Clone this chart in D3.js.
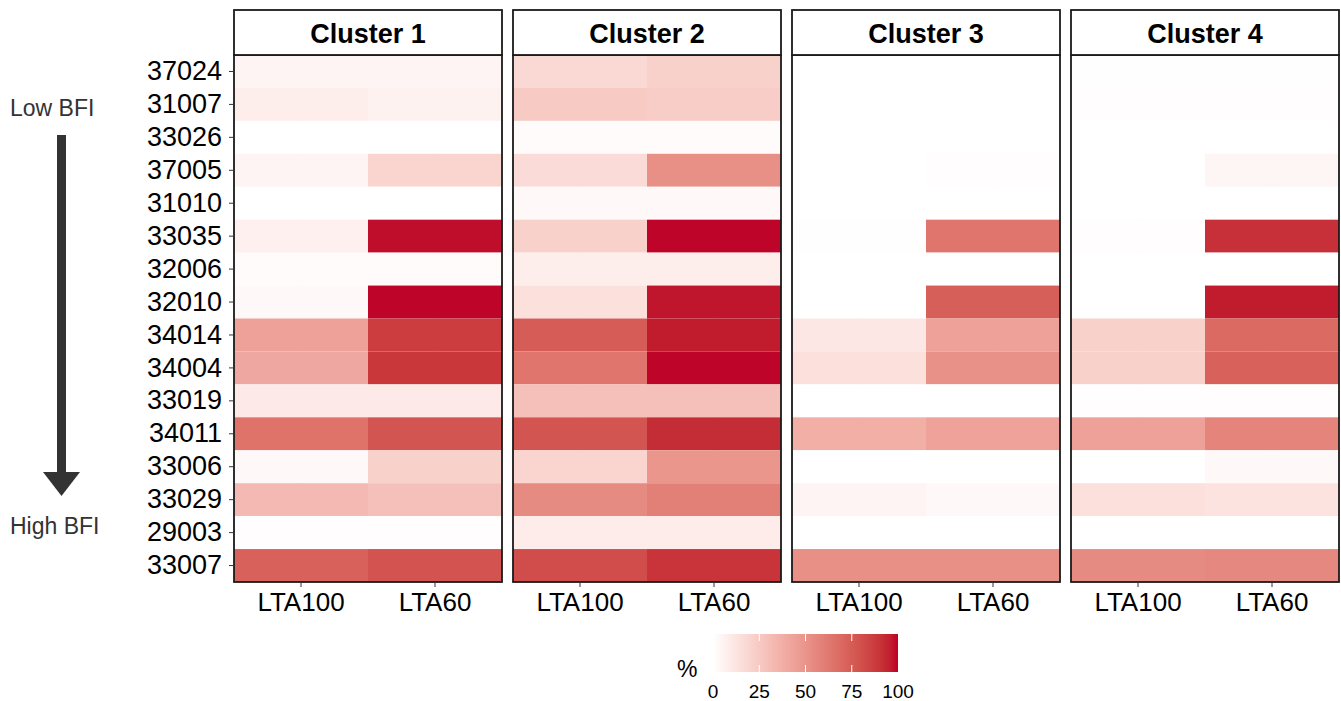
<!DOCTYPE html>
<html>
<head>
<meta charset="utf-8">
<script src="https://cdn.jsdelivr.net/npm/d3@7"></script>
<style>
  body { margin: 0; background: #fff; }
  text { font-family: "Liberation Sans", Arial, sans-serif; }
</style>
</head>
<body>
<div id="chart-area"></div>
<script>

// data (percent)
let stations = ["37024","31007","33026","37005","31010","33035","32006","32010",
                "34014","34004","33019","34011","33006","33029","29003","33007"];
let clusters = ["Cluster 1","Cluster 2","Cluster 3","Cluster 4"];
let periods = ["LTA100","LTA60"];

// one array per cluster+period, same order as stations
let c1_lta100 = [5, 8, 0, 5, 0, 7, 2, 3, 45, 41, 10, 66, 3, 33, 1, 74];
let c1_lta60  = [5, 6, 0, 20, 0, 99, 2, 100, 88, 90, 10, 79, 22, 30, 1, 80];
let c2_lta100 = [18, 25, 2, 17, 3, 22, 8, 15, 76, 65, 30, 79, 20, 55, 9, 82];
let c2_lta60  = [22, 24, 2, 53, 3, 100, 8, 98, 97, 100, 30, 93, 50, 60, 9, 91];
let c3_lta100 = [0, 0, 0, 0, 0, 0.5, 0, 0, 11, 15, 0, 38, 0, 5, 0, 53];
let c3_lta60  = [0, 0, 0, 1, 0, 65, 0, 75, 45, 52, 0, 44, 0, 3, 0, 53];
let c4_lta100 = [0.5, 1, 0, 0, 0, 1, 0, 0, 22, 22, 1, 45, 0, 15, 0, 55];
let c4_lta60  = [0.5, 1, 0, 4, 0, 92, 0, 97, 70, 74, 1, 58, 3, 13, 0, 56];

let legendTicks = [0, 25, 50, 75, 100];

let values = {
  "Cluster 1": {LTA100: c1_lta100, LTA60: c1_lta60},
  "Cluster 2": {LTA100: c2_lta100, LTA60: c2_lta60},
  "Cluster 3": {LTA100: c3_lta100, LTA60: c3_lta60},
  "Cluster 4": {LTA100: c4_lta100, LTA60: c4_lta60}
};

let width = 1341, height = 701;

let svg = d3.select("#chart-area").append("svg")
    .attr("width", width)
    .attr("height", height);

let panelTop = 55, panelBottom = 582, stripTop = 10;
let panelW = 268, panelGap = 11, panelLeft = 234;

let color = d3.scaleLinear()
    .domain([0, 100])
    .range(["#ffffff", "#BD0026"])
    .interpolate(d3.interpolateLab);

let y = d3.scaleBand()
    .domain(stations)
    .range([panelTop, panelBottom]);

// flatten into tiles
let tiles = [];
clusters.forEach(c => {
  periods.forEach(p => {
    stations.forEach((s, i) => {
      tiles.push({cluster: c, period: p, station: s, value: values[c][p][i]});
    });
  });
});

clusters.forEach((c, ci) => {
  let x0 = panelLeft + ci * (panelW + panelGap);
  let x = d3.scaleBand().domain(periods).range([x0, x0 + panelW]);

  let g = svg.append("g").attr("class", "panel");

  // faint grid under the tiles
  g.selectAll(".grid")
    .data(periods)
    .enter().append("line")
      .attr("x1", d => x(d) + x.bandwidth() / 2)
      .attr("x2", d => x(d) + x.bandwidth() / 2)
      .attr("y1", panelTop)
      .attr("y2", panelBottom)
      .attr("stroke", "#ebebeb")
      .attr("stroke-width", 1);

  g.selectAll("rect.tile")
    .data(tiles.filter(d => d.cluster === c))
    .enter().append("rect")
      .attr("class", "tile")
      .attr("x", d => x(d.period))
      .attr("y", d => y(d.station))
      .attr("width", x.bandwidth())
      .attr("height", y.bandwidth())
      .attr("fill", d => color(d.value))
      .attr("fill-opacity", 0.985);

  // panel border
  g.append("rect")
    .attr("x", x0).attr("y", panelTop)
    .attr("width", panelW).attr("height", panelBottom - panelTop)
    .attr("fill", "none").attr("stroke", "#1a1a1a").attr("stroke-width", 1.8);

  // strip
  g.append("rect")
    .attr("x", x0).attr("y", stripTop)
    .attr("width", panelW).attr("height", panelTop - stripTop)
    .attr("fill", "#fff").attr("stroke", "#1a1a1a").attr("stroke-width", 1.8);
  g.append("text")
    .attr("x", x0 + panelW / 2)
    .attr("y", (stripTop + panelTop) / 2 + 10)
    .attr("text-anchor", "middle")
    .attr("font-weight", "bold")
    .attr("font-size", 27)
    .attr("fill", "#000")
    .text(c);

  // x axis
  let xAxis = d3.axisBottom(x).tickSize(5).tickPadding(6);
  let xg = svg.append("g")
    .attr("transform", "translate(0," + panelBottom + ")")
    .call(xAxis);
  xg.select(".domain").remove();
  xg.selectAll("line").attr("stroke", "#333");
  xg.selectAll("text").attr("font-size", 26).attr("fill", "#000")
    .attr("font-family", "Liberation Sans, Arial, sans-serif");
});

// y axis on the first panel
let yAxis = d3.axisLeft(y).tickSize(5).tickPadding(7);
let yg = svg.append("g")
  .attr("transform", "translate(" + panelLeft + ",0)")
  .call(yAxis);
yg.select(".domain").remove();
yg.selectAll("line").attr("stroke", "#333");
yg.selectAll("text").attr("font-size", 27).attr("fill", "#000")
  .attr("font-family", "Liberation Sans, Arial, sans-serif");

// BFI arrow annotation
svg.append("text")
  .attr("x", 10).attr("y", 116)
  .attr("font-size", 23).attr("fill", "#333")
  .text("Low BFI");
svg.append("text")
  .attr("x", 10).attr("y", 534)
  .attr("font-size", 23).attr("fill", "#333")
  .text("High BFI");
svg.append("rect")
  .attr("x", 57).attr("y", 135)
  .attr("width", 9).attr("height", 340)
  .attr("fill", "#333");
svg.append("path")
  .attr("d", "M43,472 L80,472 L61.5,496 Z")
  .attr("fill", "#333");

// colour bar legend
let lx = d3.scaleLinear().domain([0, 100]).range([713, 898]);
let defs = svg.append("defs");
let grad = defs.append("linearGradient").attr("id", "grad");
d3.range(0, 101, 5).forEach(v => {
  grad.append("stop").attr("offset", v + "%").attr("stop-color", color(v));
});
svg.append("rect")
  .attr("x", lx(0)).attr("y", 634)
  .attr("width", lx(100) - lx(0)).attr("height", 38)
  .attr("fill", "url(#grad)");

let lg = svg.append("g").selectAll("g")
  .data(legendTicks)
  .enter().append("g");
lg.filter(d => d > 0 && d < 100).append("line")
  .attr("x1", d => lx(d)).attr("x2", d => lx(d))
  .attr("y1", 634).attr("y2", 641)
  .attr("stroke", "#fff").attr("stroke-width", 1);
lg.filter(d => d > 0 && d < 100).append("line")
  .attr("x1", d => lx(d)).attr("x2", d => lx(d))
  .attr("y1", 665).attr("y2", 672)
  .attr("stroke", "#fff").attr("stroke-width", 1);
lg.append("text")
  .attr("x", d => lx(d))
  .attr("y", 698)
  .attr("text-anchor", "middle")
  .attr("font-size", 19)
  .attr("fill", "#000")
  .text(d => d);

svg.append("text")
  .attr("x", 677).attr("y", 677)
  .attr("font-size", 23)
  .attr("fill", "#000")
  .text("%");

</script>
</body>
</html>
